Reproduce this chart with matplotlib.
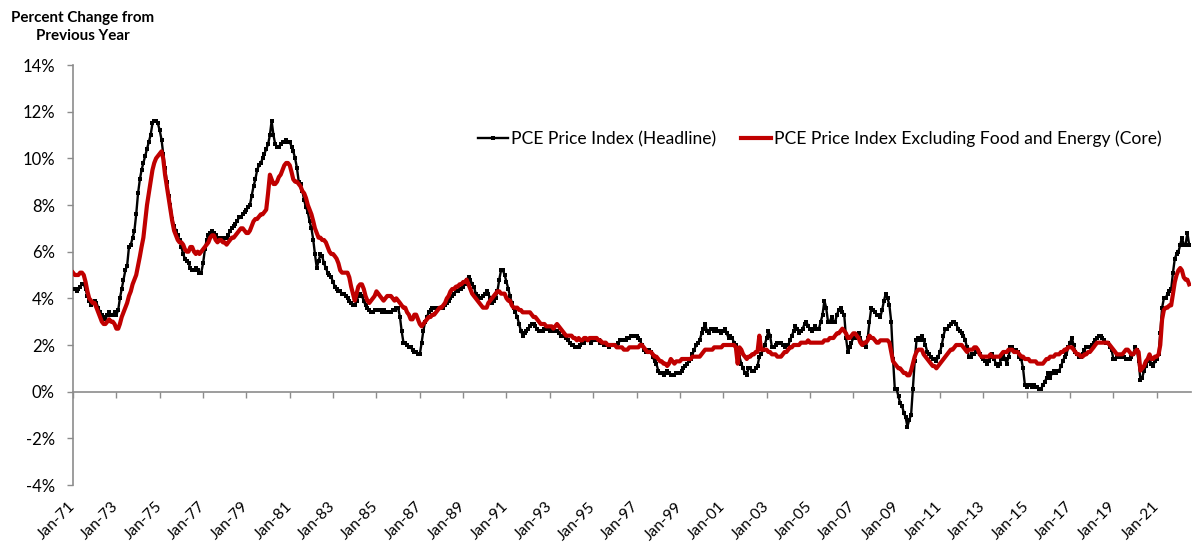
import matplotlib
matplotlib.use("Agg")
import matplotlib.pyplot as plt
import numpy as np
import pandas as pd

# ---- data: year-over-year % change, monthly, Jan-1971 .. Jul-2022 ----
headline_by_year = {
    1971: [4.4, 4.4, 4.3, 4.4, 4.5, 4.6, 4.6, 4.4, 4.1, 3.9, 3.7, 3.8],
    1972: [3.9, 3.8, 3.6, 3.4, 3.3, 3.2, 3.1, 3.3, 3.4, 3.3, 3.3, 3.4],
    1973: [3.3, 3.5, 4.0, 4.4, 4.8, 5.2, 5.4, 6.2, 6.3, 6.6, 6.9, 7.6],
    1974: [8.5, 9.1, 9.5, 9.8, 10.1, 10.4, 10.7, 11.0, 11.5, 11.6, 11.6, 11.5],
    1975: [11.2, 10.8, 10.2, 9.6, 9.0, 8.4, 8.0, 7.4, 7.1, 6.9, 6.7, 6.5],
    1976: [6.2, 5.9, 5.7, 5.6, 5.5, 5.3, 5.2, 5.2, 5.3, 5.2, 5.1, 5.1],
    1977: [5.5, 6.1, 6.5, 6.7, 6.8, 6.9, 6.8, 6.7, 6.6, 6.6, 6.6, 6.5],
    1978: [6.6, 6.6, 6.7, 6.9, 7.0, 7.1, 7.2, 7.3, 7.5, 7.5, 7.6, 7.7],
    1979: [7.8, 7.9, 8.0, 8.4, 8.8, 9.1, 9.5, 9.7, 9.8, 10.0, 10.2, 10.4],
    1980: [10.6, 11.0, 11.6, 11.0, 10.6, 10.5, 10.5, 10.6, 10.7, 10.7, 10.8, 10.7],
    1981: [10.7, 10.5, 10.3, 10.0, 9.6, 9.0, 8.9, 8.6, 8.2, 7.9, 7.7, 7.3],
    1982: [7.0, 6.5, 5.9, 5.3, 5.6, 5.9, 5.8, 5.5, 5.3, 5.1, 5.0, 4.9],
    1983: [4.7, 4.5, 4.4, 4.3, 4.3, 4.2, 4.2, 4.1, 4.0, 3.9, 3.8, 3.7],
    1984: [3.7, 3.9, 4.1, 4.2, 4.1, 3.9, 3.7, 3.6, 3.5, 3.4, 3.4, 3.5],
    1985: [3.5, 3.5, 3.5, 3.4, 3.5, 3.4, 3.4, 3.4, 3.4, 3.5, 3.5, 3.6],
    1986: [3.6, 3.2, 2.6, 2.1, 2.1, 2.0, 1.9, 1.9, 1.8, 1.7, 1.7, 1.6],
    1987: [1.6, 2.1, 2.6, 3.0, 3.2, 3.4, 3.5, 3.6, 3.6, 3.6, 3.6, 3.6],
    1988: [3.6, 3.6, 3.7, 3.8, 3.9, 4.0, 4.1, 4.2, 4.3, 4.3, 4.4, 4.4],
    1989: [4.5, 4.6, 4.8, 4.9, 4.8, 4.6, 4.5, 4.2, 4.1, 4.0, 4.0, 4.1],
    1990: [4.2, 4.3, 4.2, 4.0, 3.8, 3.9, 4.0, 4.3, 4.8, 5.2, 5.2, 5.0],
    1991: [4.7, 4.4, 4.1, 3.8, 3.6, 3.4, 3.2, 2.9, 2.6, 2.4, 2.5, 2.6],
    1992: [2.7, 2.8, 2.9, 2.9, 2.8, 2.7, 2.6, 2.6, 2.6, 2.7, 2.7, 2.7],
    1993: [2.6, 2.7, 2.6, 2.6, 2.6, 2.5, 2.4, 2.4, 2.4, 2.3, 2.2, 2.1],
    1994: [2.0, 2.0, 1.9, 1.9, 1.9, 2.0, 2.1, 2.1, 2.2, 2.2, 2.2, 2.1],
    1995: [2.2, 2.2, 2.2, 2.2, 2.1, 2.1, 2.0, 2.0, 2.0, 1.9, 2.0, 2.0],
    1996: [2.0, 2.0, 2.1, 2.2, 2.2, 2.2, 2.2, 2.3, 2.3, 2.4, 2.4, 2.4],
    1997: [2.4, 2.3, 2.2, 2.0, 1.8, 1.7, 1.7, 1.8, 1.7, 1.5, 1.3, 1.2],
    1998: [0.9, 0.8, 0.8, 0.7, 0.8, 0.9, 0.8, 0.7, 0.7, 0.7, 0.8, 0.8],
    1999: [0.8, 0.9, 1.0, 1.1, 1.2, 1.3, 1.4, 1.6, 1.8, 2.0, 2.1, 2.2],
    2000: [2.5, 2.7, 2.9, 2.6, 2.5, 2.7, 2.7, 2.6, 2.7, 2.6, 2.6, 2.5],
    2001: [2.6, 2.7, 2.5, 2.3, 2.4, 2.3, 2.1, 2.0, 1.7, 1.5, 1.2, 1.0],
    2002: [0.8, 0.7, 1.0, 1.0, 0.9, 0.9, 1.0, 1.1, 1.5, 1.6, 1.8, 2.0],
    2003: [2.3, 2.6, 2.4, 1.9, 1.9, 2.0, 2.1, 2.1, 2.1, 2.0, 1.9, 2.0],
    2004: [2.0, 2.2, 2.4, 2.6, 2.8, 2.7, 2.5, 2.6, 2.7, 2.9, 3.0, 2.8],
    2005: [2.7, 2.6, 2.7, 2.8, 2.7, 2.7, 3.0, 3.3, 3.9, 3.6, 3.0, 3.0],
    2006: [3.2, 3.0, 3.0, 3.3, 3.5, 3.6, 3.4, 3.3, 2.3, 1.7, 1.9, 2.1],
    2007: [2.3, 2.3, 2.4, 2.5, 2.3, 2.1, 2.0, 1.9, 2.3, 3.0, 3.6, 3.5],
    2008: [3.4, 3.3, 3.3, 3.2, 3.5, 3.9, 4.2, 4.0, 3.7, 3.0, 1.4, 0.1],
    2009: [0.1, -0.2, -0.5, -0.6, -0.9, -1.1, -1.5, -1.2, -1.0, 0.1, 1.3, 2.2],
    2010: [2.3, 2.2, 2.4, 2.2, 2.0, 1.7, 1.6, 1.5, 1.4, 1.4, 1.3, 1.5],
    2011: [1.7, 2.0, 2.4, 2.7, 2.7, 2.8, 2.9, 3.0, 3.0, 2.9, 2.7, 2.6],
    2012: [2.5, 2.4, 2.2, 1.9, 1.5, 1.5, 1.6, 1.6, 1.7, 1.7, 1.6, 1.5],
    2013: [1.4, 1.3, 1.2, 1.3, 1.5, 1.6, 1.4, 1.2, 1.1, 1.2, 1.4, 1.6],
    2014: [1.4, 1.2, 1.5, 1.9, 1.9, 1.8, 1.8, 1.7, 1.5, 1.4, 1.0, 0.3],
    2015: [0.2, 0.3, 0.3, 0.2, 0.3, 0.2, 0.2, 0.1, 0.1, 0.3, 0.4, 0.6],
    2016: [0.8, 0.6, 0.8, 0.9, 0.8, 0.9, 0.9, 1.1, 1.3, 1.5, 1.6, 1.9],
    2017: [2.1, 2.3, 2.0, 1.7, 1.6, 1.5, 1.5, 1.6, 1.8, 1.9, 1.9, 1.9],
    2018: [2.0, 2.1, 2.2, 2.3, 2.4, 2.4, 2.3, 2.2, 2.1, 2.1, 1.9, 1.8],
    2019: [1.4, 1.4, 1.5, 1.5, 1.5, 1.5, 1.5, 1.4, 1.4, 1.4, 1.5, 1.6],
    2020: [1.9, 1.8, 1.3, 0.5, 0.6, 0.9, 1.1, 1.3, 1.4, 1.2, 1.1, 1.3],
    2021: [1.4, 1.6, 2.5, 3.6, 4.0, 4.0, 4.2, 4.3, 4.4, 5.1, 5.7, 5.9],
    2022: [6.0, 6.3, 6.6, 6.3, 6.3, 6.8, 6.3],
}

core_by_year = {
    1971: [5.1, 5.0, 5.0, 5.0, 5.1, 5.1, 5.0, 4.7, 4.3, 4.0, 3.9, 3.8],
    1972: [3.8, 3.6, 3.4, 3.2, 3.0, 2.9, 2.9, 3.0, 3.1, 3.0, 3.0, 2.9],
    1973: [2.7, 2.7, 2.9, 3.2, 3.4, 3.6, 3.8, 4.1, 4.3, 4.6, 4.8, 5.0],
    1974: [5.4, 5.8, 6.2, 6.6, 7.3, 8.0, 8.5, 9.0, 9.5, 9.8, 10.0, 10.1],
    1975: [10.2, 10.3, 10.0, 9.3, 8.8, 8.3, 7.8, 7.3, 6.9, 6.7, 6.5, 6.4],
    1976: [6.4, 6.3, 6.1, 6.0, 6.0, 6.2, 6.2, 6.0, 5.9, 6.0, 5.9, 6.0],
    1977: [6.1, 6.2, 6.3, 6.4, 6.6, 6.7, 6.7, 6.5, 6.4, 6.5, 6.5, 6.4],
    1978: [6.4, 6.3, 6.4, 6.5, 6.6, 6.6, 6.7, 6.8, 6.9, 7.0, 7.0, 6.9],
    1979: [6.8, 6.8, 6.9, 7.1, 7.3, 7.4, 7.4, 7.5, 7.6, 7.6, 7.7, 7.8],
    1980: [8.5, 9.3, 9.1, 8.9, 8.9, 9.0, 9.2, 9.3, 9.5, 9.7, 9.8, 9.8],
    1981: [9.7, 9.4, 9.1, 9.0, 9.0, 8.9, 8.8, 8.6, 8.5, 8.3, 8.0, 7.8],
    1982: [7.6, 7.3, 7.0, 6.8, 6.6, 6.6, 6.5, 6.5, 6.4, 6.2, 6.0, 5.9],
    1983: [5.9, 5.8, 5.7, 5.5, 5.2, 5.1, 5.1, 5.1, 5.1, 4.9, 4.5, 4.2],
    1984: [3.9, 4.2, 4.5, 4.6, 4.6, 4.4, 4.1, 3.9, 3.8, 3.9, 4.0, 4.1],
    1985: [4.3, 4.2, 4.1, 4.0, 3.9, 4.0, 4.1, 4.1, 4.1, 4.0, 3.9, 4.0],
    1986: [3.9, 3.8, 3.7, 3.6, 3.6, 3.4, 3.3, 3.1, 3.1, 3.3, 3.3, 3.1],
    1987: [2.9, 2.8, 2.9, 3.0, 3.1, 3.2, 3.2, 3.3, 3.3, 3.4, 3.5, 3.6],
    1988: [3.6, 3.7, 3.8, 4.0, 4.1, 4.3, 4.4, 4.4, 4.5, 4.5, 4.6, 4.6],
    1989: [4.7, 4.7, 4.8, 4.6, 4.4, 4.2, 4.1, 4.0, 3.9, 3.8, 3.7, 3.6],
    1990: [3.6, 3.6, 3.8, 3.9, 4.0, 4.1, 4.2, 4.3, 4.3, 4.2, 4.2, 4.2],
    1991: [4.0, 3.9, 3.9, 3.7, 3.6, 3.6, 3.6, 3.5, 3.5, 3.4, 3.4, 3.4],
    1992: [3.4, 3.4, 3.3, 3.2, 3.2, 3.1, 3.0, 2.9, 2.9, 2.9, 2.8, 2.8],
    1993: [2.8, 2.8, 2.7, 2.8, 2.9, 2.8, 2.7, 2.6, 2.5, 2.4, 2.4, 2.4],
    1994: [2.4, 2.3, 2.3, 2.2, 2.3, 2.2, 2.2, 2.3, 2.3, 2.2, 2.3, 2.3],
    1995: [2.3, 2.3, 2.3, 2.2, 2.2, 2.1, 2.1, 2.1, 2.0, 2.0, 2.0, 2.0],
    1996: [2.0, 1.9, 1.9, 1.9, 1.9, 1.8, 1.8, 1.8, 1.9, 1.9, 1.9, 1.9],
    1997: [1.9, 1.9, 2.0, 2.0, 1.9, 1.8, 1.7, 1.7, 1.7, 1.6, 1.5, 1.5],
    1998: [1.4, 1.3, 1.3, 1.2, 1.2, 1.1, 1.2, 1.4, 1.3, 1.2, 1.3, 1.3],
    1999: [1.3, 1.4, 1.4, 1.4, 1.4, 1.4, 1.4, 1.5, 1.5, 1.5, 1.5, 1.5],
    2000: [1.6, 1.7, 1.8, 1.8, 1.8, 1.8, 1.8, 1.9, 1.9, 1.9, 1.9, 1.9],
    2001: [2.0, 2.0, 2.0, 2.0, 2.0, 2.0, 2.0, 1.9, 1.2, 1.9, 1.8, 1.6],
    2002: [1.5, 1.4, 1.5, 1.5, 1.6, 1.6, 1.7, 1.7, 2.4, 1.8, 1.8, 1.8],
    2003: [1.8, 1.7, 1.7, 1.6, 1.6, 1.6, 1.5, 1.5, 1.5, 1.6, 1.7, 1.7],
    2004: [1.8, 1.9, 1.9, 2.0, 2.0, 2.0, 2.0, 2.1, 2.1, 2.1, 2.1, 2.2],
    2005: [2.1, 2.1, 2.1, 2.1, 2.1, 2.1, 2.1, 2.1, 2.2, 2.2, 2.2, 2.3],
    2006: [2.3, 2.3, 2.4, 2.5, 2.5, 2.6, 2.7, 2.6, 2.5, 2.3, 2.3, 2.4],
    2007: [2.5, 2.5, 2.4, 2.3, 2.1, 2.0, 2.1, 2.1, 2.2, 2.4, 2.3, 2.3],
    2008: [2.2, 2.1, 2.1, 2.2, 2.2, 2.2, 2.2, 2.2, 2.1, 1.7, 1.3, 1.2],
    2009: [1.1, 1.0, 1.0, 0.9, 0.8, 0.8, 0.7, 0.7, 0.9, 1.2, 1.5, 1.7],
    2010: [1.8, 1.8, 1.8, 1.6, 1.5, 1.4, 1.3, 1.2, 1.1, 1.1, 1.0, 1.1],
    2011: [1.2, 1.3, 1.4, 1.5, 1.6, 1.7, 1.8, 1.8, 1.9, 2.0, 2.0, 2.0],
    2012: [2.0, 1.9, 1.8, 1.7, 1.8, 1.8, 1.8, 1.9, 1.9, 1.8, 1.6, 1.5],
    2013: [1.5, 1.5, 1.5, 1.5, 1.6, 1.5, 1.5, 1.5, 1.5, 1.5, 1.6, 1.7],
    2014: [1.7, 1.7, 1.8, 1.8, 1.8, 1.7, 1.7, 1.7, 1.6, 1.5, 1.5, 1.4],
    2015: [1.4, 1.4, 1.3, 1.3, 1.3, 1.3, 1.2, 1.2, 1.2, 1.2, 1.3, 1.4],
    2016: [1.4, 1.5, 1.5, 1.5, 1.6, 1.6, 1.6, 1.7, 1.7, 1.8, 1.8, 1.9],
    2017: [1.9, 1.9, 1.8, 1.7, 1.6, 1.6, 1.5, 1.5, 1.6, 1.6, 1.7, 1.7],
    2018: [1.8, 1.9, 2.0, 2.1, 2.1, 2.1, 2.1, 2.1, 2.1, 2.1, 2.0, 1.9],
    2019: [1.8, 1.7, 1.6, 1.6, 1.6, 1.6, 1.7, 1.8, 1.8, 1.7, 1.6, 1.6],
    2020: [1.7, 1.8, 1.7, 0.9, 1.0, 1.1, 1.3, 1.4, 1.6, 1.4, 1.4, 1.5],
    2021: [1.5, 1.6, 2.0, 3.1, 3.5, 3.6, 3.6, 3.7, 3.7, 4.2, 4.7, 5.0],
    2022: [5.2, 5.3, 5.2, 4.9, 4.8, 4.8, 4.6],
}

series_labels = ["PCE Price Index (Headline)",
                 "PCE Price Index Excluding Food and Energy (Core)"]
y_ticks = [-4, -2, 0, 2, 4, 6, 8, 10, 12, 14]
title_text = "Percent Change from\nPrevious Year"

headline = [v for yr in sorted(headline_by_year) for v in headline_by_year[yr]]
core = [v for yr in sorted(core_by_year) for v in core_by_year[yr]]
dates = pd.date_range("1971-01-01", periods=len(headline), freq="MS")

# ---- styling ----
plt.rcParams["font.family"] = ["Lato", "DejaVu Sans"]
GRAY = "#8c8c8c"
RED = "#C00000"

fig = plt.figure(figsize=(11.93, 5.5), dpi=100)
ax = fig.add_axes([73 / 1193, 1 - 485 / 550, (1191 - 73) / 1193, 420 / 550])

ax.plot(dates, headline, color="black", lw=1.7, marker="s", markersize=2.3,
        markeredgewidth=0, label=series_labels[0], zorder=3)
ax.plot(dates, core, color=RED, lw=3.0, label=series_labels[1], zorder=4)

ax.set_ylim(-4, 14)
ax.set_yticks(y_ticks)
ax.set_yticklabels([f"{t}%" for t in y_ticks])
ax.set_xlim(pd.Timestamp("1971-01-01"), pd.Timestamp("2022-08-01"))

xticks = pd.date_range("1971-01-01", "2021-01-01", freq="24MS")
ax.set_xticks(xticks)
ax.set_xticklabels([d.strftime("%b-%y") for d in xticks], rotation=45,
                   ha="right", va="center", rotation_mode="anchor")
ax.tick_params(axis="x", length=0, pad=14, labelsize=11.2)
ax.tick_params(axis="y", direction="out", length=4, width=1, color=GRAY,
               pad=9, labelsize=12)

for s in ["top", "right", "bottom"]:
    ax.spines[s].set_visible(False)
ax.spines["left"].set_color(GRAY)
ax.spines["left"].set_linewidth(1.2)

# zero line with tick marks
sec = ax.secondary_xaxis(4 / 18)
sec.set_xticks(xticks)
sec.set_xticklabels([])
sec.tick_params(direction="out", length=4, width=1, color=GRAY)
sec.spines["bottom"].set_color(GRAY)
sec.spines["bottom"].set_linewidth(1.2)

fig.text(83 / 1193, 1 - 27 / 550, title_text, ha="center", va="center",
         fontsize=10.9, fontweight="bold", linespacing=1.45)

leg = fig.legend(loc="center", bbox_to_anchor=(820 / 1193, 1 - 139 / 550),
                 ncol=2, frameon=False, fontsize=12.6, handlelength=1.7,
                 handletextpad=0.2, columnspacing=1.4)

fig.savefig("out.png", dpi=100)
